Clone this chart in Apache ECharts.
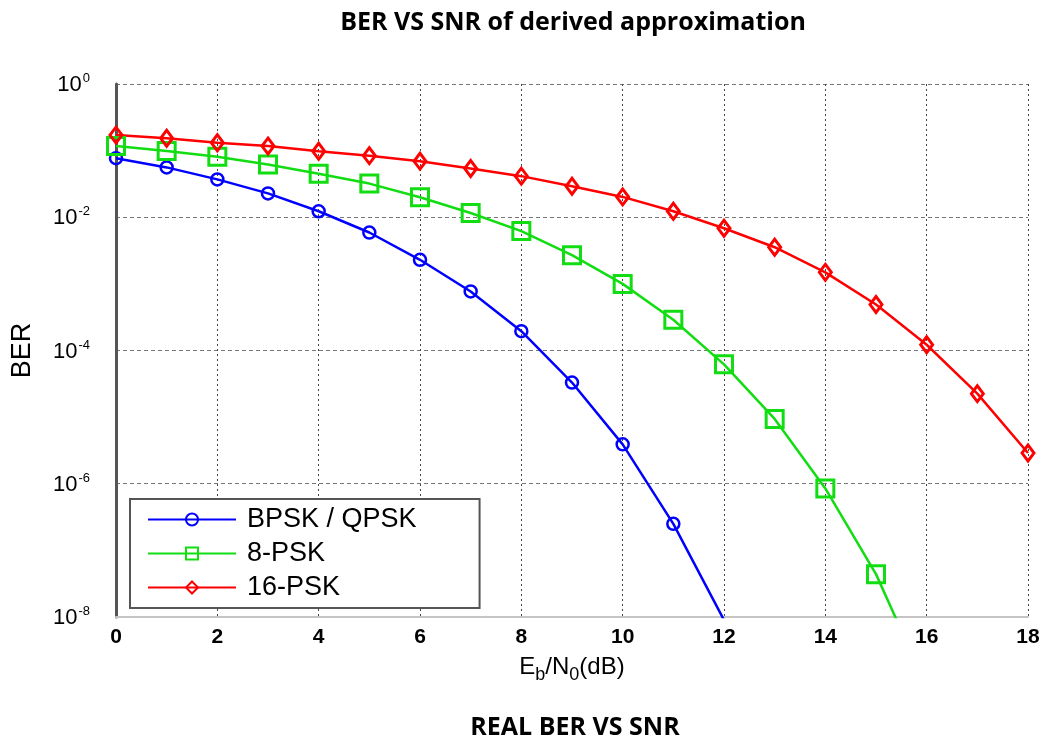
<!DOCTYPE html>
<html>
<head>
<meta charset="utf-8">
<title>BER VS SNR</title>
<script src="https://cdn.jsdelivr.net/npm/echarts@6/dist/echarts.min.js"></script>
<style>
  html, body { margin: 0; padding: 0; background: #fff; }
  #main { width: 1047px; height: 740px; }
</style>
</head>
<body>
<div id="main"></div>
<script>
// Eb/N0 in dB
var snr = [0, 1, 2, 3, 4, 5, 6, 7, 8, 9, 10, 11, 12, 13, 14, 15, 16, 17, 18];
// BER values
var berBpsk = [0.077, 0.056, 0.037, 0.0228, 0.0123, 0.0059, 0.0023, 7.7e-4, 1.95e-4, 3.3e-5, 3.9e-6, 2.5e-7, 9e-9];
var ber8psk = [0.117, 0.099, 0.081, 0.062, 0.045, 0.032, 0.020, 0.0116, 0.0062, 0.0027, 1.0e-3, 2.9e-4, 6.2e-5, 9.4e-6, 8.5e-7, 4.4e-8, 9e-10];
var ber16psk = [0.171, 0.153, 0.131, 0.117, 0.098, 0.084, 0.0695, 0.054, 0.0414, 0.0292, 0.0202, 0.0123, 0.00684, 0.00355, 0.00149, 4.9e-4, 1.22e-4, 2.25e-5, 2.9e-6];
var seriesNames = ['BPSK / QPSK', '8-PSK', '16-PSK'];

function pairs(vals) {
  return vals.map(function (v, i) { return [snr[i], v]; });
}

var chart = echarts.init(document.getElementById('main'));

var option = {
  animation: false,
  backgroundColor: '#fff',
  graphic: [
    { type: 'text', x: 573, y: 23, style: { text: 'BER VS SNR of derived approximation', font: 'bold 25px "Open Sans"', fill: '#000', textAlign: 'center', textVerticalAlign: 'middle' } },
    { type: 'text', x: 575, y: 728, style: { text: 'REAL BER VS SNR', font: 'bold 25px "Open Sans"', fill: '#000', textAlign: 'center', textVerticalAlign: 'middle' } }
  ],
  grid: { left: 116, right: 19, top: 84, bottom: 123, containLabel: false },
  legend: {
    orient: 'vertical',
    left: 130,
    top: 499,
    data: seriesNames,
    backgroundColor: '#fff',
    borderColor: '#555',
    borderWidth: 2,
    borderRadius: 0,
    padding: [7, 63, 7, 17],
    itemWidth: 88,
    itemHeight: 15,
    itemGap: 7,
    textStyle: { fontFamily: 'Liberation Sans', fontSize: 27, color: '#000', padding: [0, 0, 0, 6] }
  },
  xAxis: {
    type: 'value',
    min: 0,
    max: 18,
    interval: 2,
    name: '{n|E}{sub|b}{n|/N}{sub|0}{n|(dB)}',
    nameLocation: 'middle',
    nameGap: 38,
    nameTextStyle: {
      rich: {
        n: { fontFamily: 'Liberation Sans', fontSize: 24, color: '#000', verticalAlign: 'top' },
        sub: { fontFamily: 'Liberation Sans', fontSize: 18, color: '#000', padding: [11, 0, 0, 0] }
      }
    },
    axisLine: { show: true, lineStyle: { color: '#c4c4c4', width: 2 } },
    axisTick: { show: false },
    axisLabel: { fontFamily: 'Liberation Sans', fontWeight: 'bold', fontSize: 21, color: '#000', margin: 10 },
    splitLine: { show: true, lineStyle: { color: '#444', width: 1, type: [2, 3] } }
  },
  yAxis: {
    type: 'log',
    logBase: 100,
    min: 1e-8,
    max: 1,
    name: 'BER',
    nameLocation: 'middle',
    nameGap: 80,
    nameTextStyle: { fontFamily: 'Liberation Sans', fontSize: 27, color: '#000' },
    axisLine: { show: true, lineStyle: { color: '#555', width: 3 } },
    axisTick: { show: false },
    axisLabel: {
      margin: 26,
      formatter: function (v) {
        var e = Math.round(Math.log(v) / Math.LN10);
        return '{b|10}{s|' + e + '}';
      },
      rich: {
        b: { fontFamily: 'Liberation Sans', fontSize: 22, color: '#000', verticalAlign: 'bottom' },
        s: { fontFamily: 'Liberation Sans', fontSize: 13, color: '#000', padding: [0, 0, 11, 1] }
      }
    },
    splitLine: { show: true, lineStyle: { color: '#777', width: 1, type: [4, 3] } }
  },
  series: [
    {
      name: seriesNames[0],
      type: 'line',
      data: pairs(berBpsk),
      symbol: 'circle',
      symbolSize: 12,
      color: '#0000ff',
      lineStyle: { color: '#0000ff', width: 2.5 },
      itemStyle: { color: 'rgba(255,255,255,0)', borderColor: '#0000ff', borderWidth: 2.5 },
      clip: true
    },
    {
      name: seriesNames[1],
      type: 'line',
      data: pairs(ber8psk),
      symbol: 'rect',
      symbolSize: 17,
      color: '#12dd12',
      lineStyle: { color: '#12dd12', width: 2.5 },
      itemStyle: { color: 'rgba(255,255,255,0)', borderColor: '#12dd12', borderWidth: 3 },
      clip: true
    },
    {
      name: seriesNames[2],
      type: 'line',
      data: pairs(ber16psk),
      symbol: 'diamond',
      symbolSize: [12, 16],
      color: '#ff0000',
      lineStyle: { color: '#ff0000', width: 2.5 },
      itemStyle: { color: 'rgba(255,255,255,0)', borderColor: '#ff0000', borderWidth: 3 },
      clip: true
    }
  ]
};

chart.setOption(option);
</script>
</body>
</html>
